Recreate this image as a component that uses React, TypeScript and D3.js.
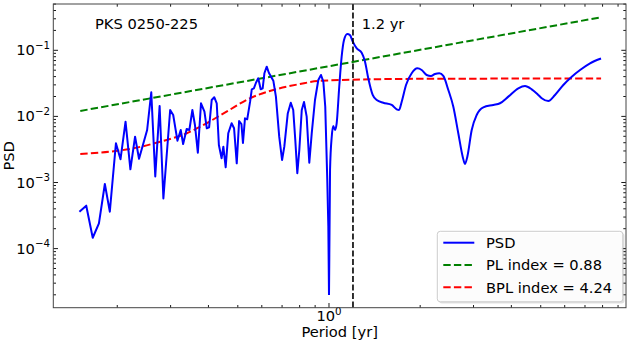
import React from 'react';
import * as d3 from 'd3';

// [period (yr), PSD]
const psdPoints: [number, number][] = [
  [0.150, 3.62e-4], [0.158, 4.46e-4], [0.166, 1.46e-4], [0.174, 2.41e-4], [0.182, 9.49e-4],
  [0.189, 3.62e-4], [0.198, 3.92e-3], [0.205, 2.24e-3], [0.213, 8.32e-3], [0.221, 1.58e-3],
  [0.229, 4.93e-3], [0.236, 2.29e-3], [0.251, 6.23e-3], [0.259, 2.32e-2], [0.267, 1.23e-3],
  [0.276, 1.44e-2], [0.284, 5.73e-4], [0.299, 1.25e-2], [0.306, 1.05e-2], [0.316, 4.29e-3],
  [0.324, 6.23e-3], [0.330, 3.82e-3], [0.339, 6.45e-3], [0.346, 6.23e-3], [0.354, 1.25e-2],
  [0.361, 7.41e-3], [0.369, 2.82e-3], [0.378, 1.58e-2], [0.388, 1.18e-2], [0.395, 6.61e-3],
  [0.402, 6.84e-3], [0.410, 1.77e-2], [0.418, 1.95e-2], [0.426, 1.58e-2], [0.433, 3.69e-3],
  [0.442, 2.32e-3], [0.448, 3.48e-3], [0.456, 1.70e-3], [0.465, 5.55e-3], [0.477, 7.86e-3],
  [0.486, 6.61e-3], [0.496, 1.95e-3], [0.505, 8.52e-3], [0.514, 7.67e-3], [0.520, 3.96e-3],
  [0.528, 9.36e-3], [0.537, 9.04e-3], [0.549, 1.67e-2], [0.556, 2.57e-2], [0.565, 2.66e-2],
  [0.574, 3.23e-2], [0.584, 3.77e-2], [0.595, 2.57e-2], [0.604, 2.66e-2], [0.612, 4.49e-2],
  [0.623, 5.65e-2], [0.633, 4.58e-2], [0.655, 3.47e-2], [0.668, 1.99e-2], [0.685, 4.93e-3],
  [0.700, 2.19e-3], [0.712, 3.48e-3], [0.731, 1.11e-2], [0.748, 1.61e-2], [0.762, 1.25e-2],
  [0.774, 4.40e-3], [0.786, 1.38e-3], [0.798, 3.10e-3], [0.813, 1.25e-2], [0.827, 1.65e-2],
  [0.844, 9.90e-3], [0.861, 1.99e-3], [0.877, 5.55e-3], [0.899, 1.77e-2], [0.922, 3.55e-2],
  [0.941, 4.23e-2], [0.958, 3.35e-2], [0.972, 1.40e-2], [0.987, 1.09e-3], [0.995, 2.15e-4],
  [1.000, 1.99e-5], [1.008, 1.55e-3], [1.021, 4.93e-3], [1.033, 7.16e-3], [1.047, 6.23e-3],
  [1.060, 7.86e-3], [1.081, 2.81e-2], [1.101, 8.00e-2], [1.121, 0.143], [1.149, 0.176],
  [1.173, 0.170], [1.198, 0.135], [1.235, 0.107], [1.282, 9.20e-2], [1.315, 6.72e-2],
  [1.348, 3.77e-2], [1.394, 2.11e-2], [1.437, 1.77e-2], [1.511, 1.61e-2], [1.611, 1.49e-2],
  [1.673, 1.28e-2], [1.703, 1.25e-2], [1.738, 1.67e-2], [1.796, 2.99e-2], [1.875, 4.49e-2],
  [1.957, 5.34e-2], [2.023, 5.04e-2], [2.101, 4.23e-2], [2.171, 4.09e-2], [2.239, 4.38e-2],
  [2.313, 4.49e-2], [2.384, 4.09e-2], [2.477, 2.51e-2], [2.573, 1.40e-2], [2.672, 5.55e-3],
  [2.763, 2.46e-3], [2.812, 1.91e-3], [2.862, 2.46e-3], [2.959, 6.23e-3], [3.073, 1.05e-2],
  [3.232, 1.37e-2], [3.487, 1.49e-2], [3.668, 1.58e-2], [3.908, 1.99e-2], [4.217, 2.66e-2],
  [4.437, 2.88e-2], [4.669, 2.57e-2], [4.909, 2.11e-2], [5.038, 1.88e-2], [5.297, 1.71e-2],
  [5.573, 2.11e-2], [5.936, 2.99e-2], [6.330, 3.99e-2], [6.742, 5.04e-2], [7.273, 6.36e-2],
  [7.907, 7.52e-2],
];

const plPoints: [number, number][] = [
  [0.151, 0.0121], [7.91, 0.316],
];

const bplPoints: [number, number][] = [
  [0.151, 0.00270], [0.189, 0.00292], [0.226, 0.00329], [0.277, 0.00414], [0.339, 0.00555],
  [0.394, 0.00787], [0.459, 0.0118], [0.548, 0.0188], [0.655, 0.0251], [0.802, 0.0309],
  [0.922, 0.0343], [1.366, 0.0364], [2.5, 0.0372], [7.91, 0.0374],
];

const qpoPeriod = 1.2;
const legendLabels = ['PSD', 'PL index = 0.88', 'BPL index = 4.24'];
const legendColors = ['#0000ff', '#008000', '#ff0000'];

const W = 631;
const H = 344;
const M = { left: 53.3, right: 626, top: 4, bottom: 307.7 };
const FONT = '"DejaVu Sans", sans-serif';

const x = d3.scaleLog().domain([0.123, 9.56]).range([M.left, M.right]);
const y = d3.scaleLog().domain([1.276e-5, 0.5018]).range([M.bottom, M.top]);

const isDecade = (v: number) => Math.abs(Math.log10(v) - Math.round(Math.log10(v))) < 1e-9;

const line = d3
  .line<[number, number]>()
  .x((d) => x(d[0]))
  .y((d) => y(d[1]));

// the short-period part is jagged, the long-period part is densely sampled
const psdShort = psdPoints.filter((d) => d[0] <= 1.0);
const psdLong = psdPoints.filter((d) => d[0] >= 1.0);

const Pow10 = ({ exp, fs }: { exp: number; fs: number }) => (
  <>
    <tspan>10</tspan>
    <tspan dy={-fs * 0.42} fontSize={fs * 0.7}>
      {exp < 0 ? `\u2212${-exp}` : `${exp}`}
    </tspan>
  </>
);

export default function App() {
  const xTicks = x.ticks();
  const yTicks = y.ticks();
  const fs = 14.67;

  return (
    <div style={{ position: 'absolute', left: 0, top: 0 }}>
      <svg width={W} height={H} fontFamily={FONT}>
        <rect width={W} height={H} fill="#fff" />

        {/* model lines */}
        <path
          d={line.curve(d3.curveLinear)(plPoints) || ''}
          fill="none"
          stroke="#008000"
          strokeWidth={2}
          strokeDasharray="7.4 3.2"
        />
        <path
          d={line.curve(d3.curveMonotoneX)(bplPoints) || ''}
          fill="none"
          stroke="#ff0000"
          strokeWidth={2}
          strokeDasharray="7.4 3.2"
        />
        <path
          d={line.curve(d3.curveLinear)(psdShort) || ''}
          fill="none"
          stroke="#0000ff"
          strokeWidth={2}
          strokeLinejoin="round"
        />
        <path
          d={line.curve(d3.curveMonotoneX)(psdLong) || ''}
          fill="none"
          stroke="#0000ff"
          strokeWidth={2}
          strokeLinejoin="round"
        />
        <line
          x1={x(qpoPeriod)}
          x2={x(qpoPeriod)}
          y1={M.top}
          y2={M.bottom}
          stroke="#000"
          strokeWidth={1.6}
          strokeDasharray="5.9 2.6"
        />

        {/* ticks, all four sides pointing in */}
        <g stroke="#000" strokeWidth={0.9}>
          {xTicks.map((t, i) => {
            const len = isDecade(t) ? 4.7 : 2.7;
            const px = x(t);
            return (
              <g key={`xt${i}`}>
                <line x1={px} x2={px} y1={M.bottom} y2={M.bottom - len} />
                <line x1={px} x2={px} y1={M.top} y2={M.top + len} />
              </g>
            );
          })}
          {yTicks.map((t, i) => {
            const len = isDecade(t) ? 4.7 : 2.7;
            const py = y(t);
            return (
              <g key={`yt${i}`}>
                <line x1={M.left} x2={M.left + len} y1={py} y2={py} />
                <line x1={M.right} x2={M.right - len} y1={py} y2={py} />
              </g>
            );
          })}
        </g>

        {/* tick labels */}
        <g fontSize={fs} fill="#000">
          {xTicks.filter(isDecade).map((t, i) => (
            <text key={`xl${i}`} x={x(t)} y={320.7} textAnchor="middle">
              <Pow10 exp={Math.round(Math.log10(t))} fs={fs} />
            </text>
          ))}
          {yTicks.filter(isDecade).map((t, i) => (
            <text key={`yl${i}`} x={50} y={y(t) + 5} textAnchor="end">
              <Pow10 exp={Math.round(Math.log10(t))} fs={fs} />
            </text>
          ))}
        </g>

        {/* frame */}
        <rect
          x={M.left}
          y={M.top}
          width={M.right - M.left}
          height={M.bottom - M.top}
          fill="none"
          stroke="#444"
          strokeWidth={1}
        />

        {/* axis labels */}
        <text x={(M.left + M.right) / 2} y={336.5} textAnchor="middle" fontSize={fs}>
          Period [yr]
        </text>
        <text transform={`translate(14,${(M.top + M.bottom) / 2}) rotate(-90)`} textAnchor="middle" fontSize={fs}>
          PSD
        </text>

        {/* annotations */}
        <text x={95} y={29.3} fontSize={fs}>
          PKS 0250-225
        </text>
        <text x={361.7} y={29.3} fontSize={fs}>
          1.2 yr
        </text>

        {/* legend */}
        <g>
          <rect x={439} y={233} width={185.5} height={70.5} rx={3} fill="#000" opacity={0.12} />
          <rect x={437.3} y={231.3} width={185.5} height={70.5} rx={3} fill="#fff" fillOpacity={0.9} stroke="#cccccc" strokeWidth={1} />
          {legendLabels.map((lab, i) => {
            const cy = 242.7 + i * 22.3;
            return (
              <g key={lab}>
                <line
                  x1={443.3}
                  x2={474.3}
                  y1={cy}
                  y2={cy}
                  stroke={legendColors[i]}
                  strokeWidth={2}
                  strokeDasharray={i === 0 ? undefined : '7.4 3.2'}
                />
                <text x={486} y={cy + 5.2} fontSize={fs}>
                  {lab}
                </text>
              </g>
            );
          })}
        </g>
      </svg>
    </div>
  );
}
